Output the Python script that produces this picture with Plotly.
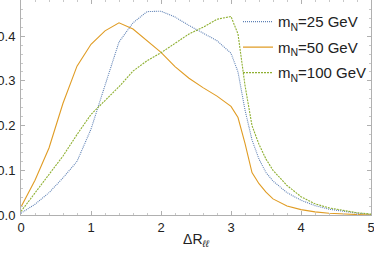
import plotly.graph_objects as go

dR = [0.0, 0.2, 0.4, 0.6, 0.8, 1.0, 1.2, 1.4, 1.6, 1.8, 2.0, 2.2, 2.4, 2.6, 2.8,
      3.0, 3.1, 3.2, 3.3, 3.4, 3.5, 3.6, 3.8, 4.0, 4.2, 4.4, 4.6, 4.8, 5.0]

m25 = [0.004, 0.024, 0.050, 0.083, 0.120, 0.192, 0.290, 0.387, 0.430, 0.455, 0.456,
       0.443, 0.424, 0.407, 0.390, 0.362, 0.320, 0.235, 0.168, 0.125, 0.095, 0.076,
       0.050, 0.033, 0.021, 0.013, 0.008, 0.004, 0.001]

m50 = [0.018, 0.078, 0.150, 0.250, 0.333, 0.382, 0.412, 0.430, 0.416, 0.391, 0.364,
       0.332, 0.306, 0.285, 0.266, 0.243, 0.218, 0.160, 0.095, 0.070, 0.051, 0.036,
       0.020, 0.012, 0.007, 0.004, 0.002, 0.001, 0.000]

m100 = [0.008, 0.050, 0.092, 0.132, 0.180, 0.225, 0.256, 0.287, 0.322, 0.345, 0.363,
        0.385, 0.405, 0.420, 0.438, 0.444, 0.405, 0.290, 0.200, 0.158, 0.125, 0.100,
        0.066, 0.041, 0.025, 0.016, 0.010, 0.005, 0.002]

names = ["m<sub>N</sub>=25 GeV", "m<sub>N</sub>=50 GeV", "m<sub>N</sub>=100 GeV"]
colors = ["#5E81B5", "#E09C24", "#8FB032"]
dashes = ["1px,1px", "solid", "2px,1px"]

fig = go.Figure()
for i, (ys, nm, c, d) in enumerate(zip([m25, m50, m100], names, colors, dashes)):
    fig.add_trace(go.Scatter(x=dR, y=ys, mode="lines", name=nm, legendgroup=f"g{i}",
                             line=dict(color=c, width=1.1, dash=d)))

axcommon = dict(showgrid=False, zeroline=False, showline=True, linecolor="#b0b0b0",
                linewidth=1, mirror="ticks", ticks="inside", tickcolor="#b0b0b0",
                ticklen=4, automargin=False, ticklabeloverflow="allow",
                tickfont=dict(size=13, color="#222"))

fig.update_xaxes(range=[0, 5], dtick=1, tick0=0,
                 minor=dict(ticks="inside", dtick=0.2, ticklen=2, tickcolor="#c8c8c8"),
                 title=dict(text="ΔR<sub><i>ℓℓ</i></sub>", font=dict(size=14, color="#222"),
                            standoff=0),
                 **axcommon)
fig.update_yaxes(range=[0, 0.481], dtick=0.1, tick0=0, tickformat=".1f",
                 minor=dict(ticks="inside", dtick=0.02, ticklen=2, tickcolor="#c8c8c8"),
                 ticklabelstandoff=2,
                 **axcommon)

fig.update_layout(
    width=374, height=253,
    margin=dict(l=21, r=3, t=0, b=38),
    paper_bgcolor="white", plot_bgcolor="white",
    font=dict(family="Liberation Sans, Arial, sans-serif"),
    legend=dict(x=0.62, y=0.975, xanchor="left", yanchor="top",
                bgcolor="rgba(0,0,0,0)", itemwidth=30,
                font=dict(size=15, color="#222"), tracegroupgap=3),
)

fig.write_html("out.html", config={"displayModeBar": False},
               post_script="document.body.style.margin='0';document.body.style.padding='0';")
